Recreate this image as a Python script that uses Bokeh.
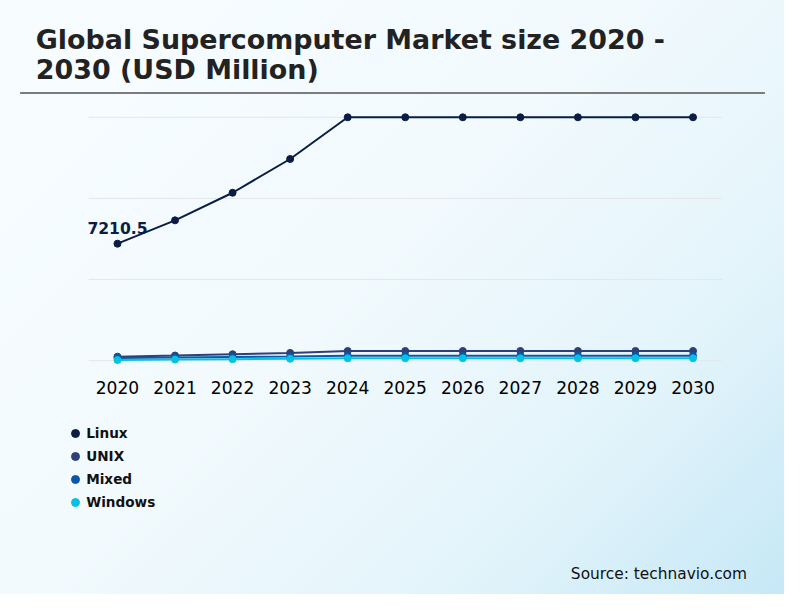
from bokeh.plotting import figure
from bokeh.layouts import column
from bokeh.models import (Range1d, FixedTicker, Legend, LegendItem, Label,
                          BoxAnnotation, ColumnDataSource)
from bokeh.embed import file_html
from bokeh.resources import INLINE

# ---- data ----
years = [2020, 2021, 2022, 2023, 2024, 2025, 2026, 2027, 2028, 2029, 2030]
tick_labels = [str(y) for y in years]
linux = [7210.5, 8650, 10350, 12430, 15000, 15000, 15000, 15000, 15000, 15000, 15000]
unix = [250, 320, 400, 480, 600, 600, 600, 600, 600, 600, 600]
mixed = [170, 200, 230, 260, 310, 310, 310, 310, 310, 310, 310]
windows = [40, 70, 95, 120, 150, 150, 150, 150, 150, 150, 150]
series_names = ["Linux", "UNIX", "Mixed", "Windows"]
series_colors = ["#0b1d45", "#2f3f78", "#0b57a6", "#05c2e2"]
grid_values = [0, 5000, 10000, 15000]
title_lines = ["Global Supercomputer Market size 2020 -", "2030 (USD Million)"]
source_text = "Source: technavio.com"
first_label = "7210.5"

FONT = "DejaVu Sans"
W = 784
HEADER_H = 100
MAIN_H = 315
FOOTER_H = 594 - HEADER_H - MAIN_H

# plot-area geometry (pixels)
AREA_LEFT, AREA_RIGHT = 88.2, 721.3
px_per_year = (AREA_RIGHT - AREA_LEFT) / 11.0
x_lo = years[0] - 0.5 - AREA_LEFT / px_per_year
x_hi = years[-1] + 0.5 + (W - AREA_RIGHT) / px_per_year


def bare(height):
    f = figure(width=W, height=height, output_backend="svg", toolbar_location=None,
               x_axis_type=None, y_axis_type=None, x_range=Range1d(0, 1),
               y_range=Range1d(0, 1), min_border=0)
    f.background_fill_alpha = 0
    f.border_fill_alpha = 0
    f.outline_line_color = None
    return f


# ---- header: title + separator ----
header = bare(HEADER_H)
for txt, ypos in zip(title_lines, [60.9, 31.0]):
    header.add_layout(Label(x=35.3, y=ypos, x_units="screen", y_units="screen",
                            text=txt, text_font=FONT, text_font_style="bold",
                            text_font_size="26.9px", text_color="#222222",
                            text_baseline="alphabetic"))
header.add_layout(BoxAnnotation(left=19.6, right=764.4, bottom=6.5, top=8.5,
                                left_units="screen", right_units="screen",
                                bottom_units="screen", top_units="screen",
                                fill_color="#7c7c7c", fill_alpha=1, line_alpha=0))

# ---- main chart ----
p = figure(width=W, height=MAIN_H, output_backend="svg", toolbar_location=None,
           x_range=Range1d(x_lo, x_hi), y_range=Range1d(-480, 15480),
           y_axis_type=None, min_border_left=0, min_border_right=0,
           min_border_top=9, min_border_bottom=47)
p.background_fill_alpha = 0
p.border_fill_alpha = 0
p.outline_line_color = None
p.xgrid.visible = False

xa = p.xaxis[0]
xa.ticker = FixedTicker(ticks=years)
xa.major_label_overrides = {y: l for y, l in zip(years, tick_labels)}
xa.axis_line_color = None
xa.major_tick_line_color = None
xa.minor_tick_line_color = None
xa.major_tick_out = 0
xa.major_tick_in = 0
xa.major_label_standoff = 12
xa.major_label_text_font = FONT
xa.major_label_text_font_size = "17.1px"
xa.major_label_text_color = "#000000"

# horizontal grid lines limited to the plotting area
p.segment(x0=[years[0] - 0.5] * len(grid_values), x1=[years[-1] + 0.5] * len(grid_values),
          y0=grid_values, y1=grid_values, line_color="#e3e6ea", line_width=1)

src = ColumnDataSource(dict(x=years, Linux=linux, UNIX=unix, Mixed=mixed, Windows=windows))
for name, color in zip(series_names, series_colors):
    p.line("x", name, source=src, line_color=color, line_width=2)
    p.scatter("x", name, source=src, size=7, fill_color=color, line_color=color)

p.add_layout(Label(x=years[0], y=linux[0], text=first_label, text_align="center",
                   text_baseline="alphabetic", y_offset=16, text_font=FONT,
                   text_font_style="bold", text_font_size="15.6px", text_color="#0b1d45"))

# ---- footer: legend + source ----
footer = bare(FOOTER_H)
items = []
for name, color in zip(series_names, series_colors):
    r = footer.scatter("x", name, source=src, size=8, fill_color=color, line_color=color)
    items.append(LegendItem(label=name, renderers=[r]))
legend = Legend(items=items, location=(65.2, 82.5), orientation="vertical",
                background_fill_alpha=0, border_line_alpha=0, padding=0, margin=0,
                glyph_width=20, glyph_height=20, label_height=20, spacing=3,
                label_standoff=1, label_text_font=FONT, label_text_font_style="bold",
                label_text_font_size="13.6px", label_text_color="#111111")
footer.add_layout(legend)
footer.add_layout(Label(x=746.5, y=20.5, x_units="screen", y_units="screen",
                        text=source_text, text_align="right", text_font=FONT,
                        text_font_size="15.4px", text_color="#111111",
                        text_baseline="alphabetic"))

layout = column(header, p, footer, spacing=0)
layout.styles = {"background": "linear-gradient(135deg, #f7fcff 0%, #f2fafd 45%, #e3f4fb 75%, #c6e8f6 100%)"}

open("out.html", "w").write(file_html(layout, INLINE))
